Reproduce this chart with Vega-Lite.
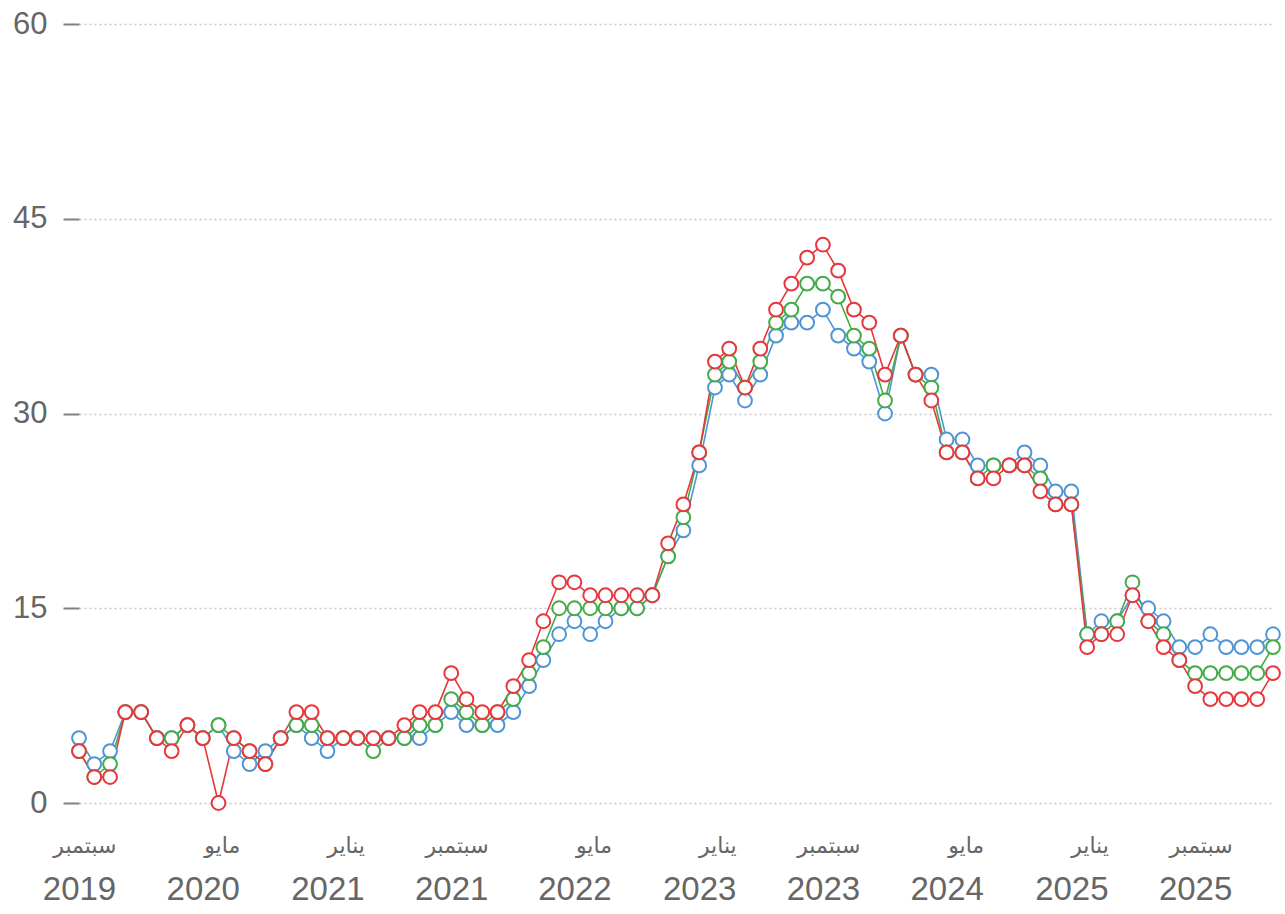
{
  "$schema": "https://vega.github.io/schema/vega-lite/v6.json",
  "width": 1194,
  "height": 779,
  "autosize": {"type": "none"},
  "padding": {"left": 79, "top": 24, "right": 12, "bottom": 111},
  "background": "white",
  "config": {"view": {"stroke": null}, "font": "Liberation Sans"},
  "datasets": {
    "raw": [
      {"date":"2019-09-01","A":5,"B":4,"C":4},
      {"date":"2019-10-01","A":3,"B":2,"C":2},
      {"date":"2019-11-01","A":4,"B":3,"C":2},
      {"date":"2019-12-01","A":7,"B":7,"C":7},
      {"date":"2020-01-01","A":7,"B":7,"C":7},
      {"date":"2020-02-01","A":5,"B":5,"C":5},
      {"date":"2020-03-01","A":5,"B":5,"C":4},
      {"date":"2020-04-01","A":6,"B":6,"C":6},
      {"date":"2020-05-01","A":5,"B":5,"C":5},
      {"date":"2020-06-01","A":6,"B":6,"C":0},
      {"date":"2020-07-01","A":4,"B":5,"C":5},
      {"date":"2020-08-01","A":3,"B":4,"C":4},
      {"date":"2020-09-01","A":4,"B":3,"C":3},
      {"date":"2020-10-01","A":5,"B":5,"C":5},
      {"date":"2020-11-01","A":6,"B":6,"C":7},
      {"date":"2020-12-01","A":5,"B":6,"C":7},
      {"date":"2021-01-01","A":4,"B":5,"C":5},
      {"date":"2021-02-01","A":5,"B":5,"C":5},
      {"date":"2021-03-01","A":5,"B":5,"C":5},
      {"date":"2021-04-01","A":5,"B":4,"C":5},
      {"date":"2021-05-01","A":5,"B":5,"C":5},
      {"date":"2021-06-01","A":5,"B":5,"C":6},
      {"date":"2021-07-01","A":5,"B":6,"C":7},
      {"date":"2021-08-01","A":6,"B":6,"C":7},
      {"date":"2021-09-01","A":7,"B":8,"C":10},
      {"date":"2021-10-01","A":6,"B":7,"C":8},
      {"date":"2021-11-01","A":6,"B":6,"C":7},
      {"date":"2021-12-01","A":6,"B":7,"C":7},
      {"date":"2022-01-01","A":7,"B":8,"C":9},
      {"date":"2022-02-01","A":9,"B":10,"C":11},
      {"date":"2022-03-01","A":11,"B":12,"C":14},
      {"date":"2022-04-01","A":13,"B":15,"C":17},
      {"date":"2022-05-01","A":14,"B":15,"C":17},
      {"date":"2022-06-01","A":13,"B":15,"C":16},
      {"date":"2022-07-01","A":14,"B":15,"C":16},
      {"date":"2022-08-01","A":15,"B":15,"C":16},
      {"date":"2022-09-01","A":15,"B":15,"C":16},
      {"date":"2022-10-01","A":16,"B":16,"C":16},
      {"date":"2022-11-01","A":19,"B":19,"C":20},
      {"date":"2022-12-01","A":21,"B":22,"C":23},
      {"date":"2023-01-01","A":26,"B":27,"C":27},
      {"date":"2023-02-01","A":32,"B":33,"C":34},
      {"date":"2023-03-01","A":33,"B":34,"C":35},
      {"date":"2023-04-01","A":31,"B":32,"C":32},
      {"date":"2023-05-01","A":33,"B":34,"C":35},
      {"date":"2023-06-01","A":36,"B":37,"C":38},
      {"date":"2023-07-01","A":37,"B":38,"C":40},
      {"date":"2023-08-01","A":37,"B":40,"C":42},
      {"date":"2023-09-01","A":38,"B":40,"C":43},
      {"date":"2023-10-01","A":36,"B":39,"C":41},
      {"date":"2023-11-01","A":35,"B":36,"C":38},
      {"date":"2023-12-01","A":34,"B":35,"C":37},
      {"date":"2024-01-01","A":30,"B":31,"C":33},
      {"date":"2024-02-01","A":36,"B":36,"C":36},
      {"date":"2024-03-01","A":33,"B":33,"C":33},
      {"date":"2024-04-01","A":33,"B":32,"C":31},
      {"date":"2024-05-01","A":28,"B":27,"C":27},
      {"date":"2024-06-01","A":28,"B":27,"C":27},
      {"date":"2024-07-01","A":26,"B":25,"C":25},
      {"date":"2024-08-01","A":26,"B":26,"C":25},
      {"date":"2024-09-01","A":26,"B":26,"C":26},
      {"date":"2024-10-01","A":27,"B":26,"C":26},
      {"date":"2024-11-01","A":26,"B":25,"C":24},
      {"date":"2024-12-01","A":24,"B":23,"C":23},
      {"date":"2025-01-01","A":24,"B":23,"C":23},
      {"date":"2025-02-01","A":13,"B":13,"C":12},
      {"date":"2025-03-01","A":14,"B":13,"C":13},
      {"date":"2025-04-01","A":14,"B":14,"C":13},
      {"date":"2025-05-01","A":16,"B":17,"C":16},
      {"date":"2025-06-01","A":15,"B":14,"C":14},
      {"date":"2025-07-01","A":14,"B":13,"C":12},
      {"date":"2025-08-01","A":12,"B":11,"C":11},
      {"date":"2025-09-01","A":12,"B":10,"C":9},
      {"date":"2025-10-01","A":13,"B":10,"C":8},
      {"date":"2025-11-01","A":12,"B":10,"C":8},
      {"date":"2025-12-01","A":12,"B":10,"C":8},
      {"date":"2026-01-01","A":12,"B":10,"C":8},
      {"date":"2026-02-01","A":13,"B":12,"C":10}
    ]
  },
  "data": {"name": "raw"},
  "transform": [
    {"fold": ["A", "B", "C"], "as": ["series", "value"]}
  ],
  "encoding": {
    "y": {
      "field": "value",
      "type": "quantitative",
      "scale": {"domain": [0, 60], "nice": false},
      "axis": {
        "values": [0, 15, 30, 45, 60],
        "title": null,
        "domain": false,
        "grid": true,
        "gridColor": "#c8c8c8",
        "gridDash": [2, 3],
        "gridWidth": 1.5,
        "tickSize": 16,
        "tickWidth": 2,
        "tickColor": "#808080",
        "labelPadding": 16,
        "labelFontSize": 31,
        "labelColor": "#666666",
        "labelFont": "Liberation Sans"
      }
    }
  },
  "layer": [
    {
      "mark": {"type": "line", "strokeWidth": 1.6},
      "encoding": {
        "x": {
          "field": "date",
          "type": "temporal",
          "scale": {"type": "utc", "nice": false, "domain": [{"year": 2019, "month": 9, "date": 1, "utc": true}, {"year": 2026, "month": 2, "date": 1, "utc": true}]},
          "axis": {
            "orient": "bottom",
            "values": [
              {"year": 2019, "month": 9, "date": 1, "utc": true},
              {"year": 2020, "month": 5, "date": 1, "utc": true},
              {"year": 2021, "month": 1, "date": 1, "utc": true},
              {"year": 2021, "month": 9, "date": 1, "utc": true},
              {"year": 2022, "month": 5, "date": 1, "utc": true},
              {"year": 2023, "month": 1, "date": 1, "utc": true},
              {"year": 2023, "month": 9, "date": 1, "utc": true},
              {"year": 2024, "month": 5, "date": 1, "utc": true},
              {"year": 2025, "month": 1, "date": 1, "utc": true},
              {"year": 2025, "month": 9, "date": 1, "utc": true}
            ],
            "labelExpr": "utcmonth(datum.value) == 8 ? 'سبتمبر' : (utcmonth(datum.value) == 4 ? 'مايو' : 'يناير')",
            "title": null,
            "domain": false,
            "ticks": false,
            "grid": false,
            "labelAlign": "right",
            "labelOffset": 37,
            "labelPadding": 32,
            "labelFontSize": 22,
            "labelColor": "#666666",
            "labelFont": "DejaVu Sans",
            "labelOverlap": false,
            "labelBound": false,
            "labelFlush": false
          }
        },
        "color": {
          "field": "series",
          "type": "nominal",
          "scale": {"domain": ["A", "B", "C"], "range": ["#4f95d6", "#45aa48", "#e8373c"]},
          "legend": null
        }
      }
    },
    {
      "mark": {"type": "point", "shape": "circle", "filled": true, "fill": "white", "size": 190, "strokeWidth": 2, "opacity": 1},
      "encoding": {
        "x": {
          "field": "date",
          "type": "temporal",
          "scale": {"type": "utc", "nice": false, "domain": [{"year": 2019, "month": 9, "date": 1, "utc": true}, {"year": 2026, "month": 2, "date": 1, "utc": true}]},
          "axis": {
            "orient": "bottom",
            "values": [
              {"year": 2019, "month": 9, "date": 1, "utc": true},
              {"year": 2020, "month": 5, "date": 1, "utc": true},
              {"year": 2021, "month": 1, "date": 1, "utc": true},
              {"year": 2021, "month": 9, "date": 1, "utc": true},
              {"year": 2022, "month": 5, "date": 1, "utc": true},
              {"year": 2023, "month": 1, "date": 1, "utc": true},
              {"year": 2023, "month": 9, "date": 1, "utc": true},
              {"year": 2024, "month": 5, "date": 1, "utc": true},
              {"year": 2025, "month": 1, "date": 1, "utc": true},
              {"year": 2025, "month": 9, "date": 1, "utc": true}
            ],
            "labelExpr": "utcFormat(datum.value, '%Y')",
            "title": null,
            "domain": false,
            "ticks": false,
            "grid": false,
            "labelAlign": "center",
            "labelPadding": 70,
            "labelFontSize": 33,
            "labelColor": "#666666",
            "labelFont": "Liberation Sans",
            "labelOverlap": false,
            "labelBound": false,
            "labelFlush": false
          }
        },
        "stroke": {
          "field": "series",
          "type": "nominal",
          "scale": {"domain": ["A", "B", "C"], "range": ["#4f95d6", "#45aa48", "#e8373c"]},
          "legend": null
        }
      }
    }
  ],
  "resolve": {"axis": {"x": "independent"}}
}
